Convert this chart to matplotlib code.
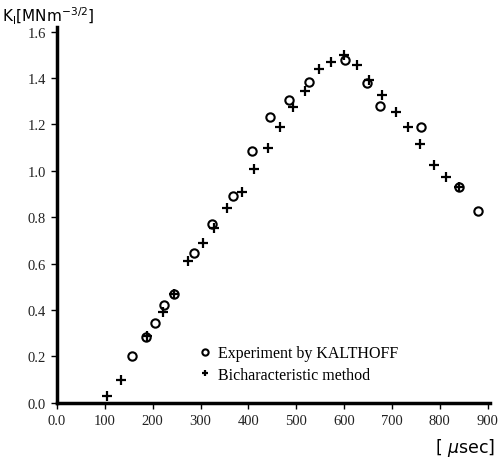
import matplotlib.pyplot as plt

# Experiment by KALTHOFF (circles)
exp_t = [156, 186, 205, 223, 245, 287, 325, 367, 408, 445, 484, 526, 601,
         647, 676, 761, 840, 880]
exp_k = [0.20, 0.283, 0.345, 0.42, 0.47, 0.645, 0.77, 0.89, 1.085, 1.234,
         1.306, 1.385, 1.48, 1.379, 1.279, 1.188, 0.929, 0.829]

# Bicharacteristic method (plus)
bic_t = [105, 134, 188, 221, 245, 273, 305, 328, 356, 386, 412, 440, 466,
         493, 519, 547, 573, 600, 627, 653, 680, 708, 733, 759, 787, 812, 840]
bic_k = [0.031, 0.099, 0.29, 0.39, 0.47, 0.61, 0.69, 0.755, 0.84, 0.91,
         1.007, 1.098, 1.191, 1.277, 1.346, 1.44, 1.471, 1.50, 1.457, 1.393,
         1.325, 1.256, 1.188, 1.116, 1.026, 0.975, 0.929]

xticks = [0, 100, 200, 300, 400, 500, 600, 700, 800, 900]
xtick_labels = ['0.0', '100', '200', '300', '400', '500', '600', '700', '800', '900']
yticks = [0.0, 0.2, 0.4, 0.6, 0.8, 1.0, 1.2, 1.4, 1.6]

serif = ['Liberation Serif', 'DejaVu Serif']

fig = plt.figure(figsize=(5, 4.6), dpi=100)
ax = fig.add_axes([0.114, 0.122, 0.866, 0.817])

ax.plot(exp_t, exp_k, linestyle='none', marker='o', markersize=6,
        markerfacecolor='none', markeredgecolor='black', markeredgewidth=1.5,
        label='Experiment by KALTHOFF')
ax.plot(bic_t, bic_k, linestyle='none', marker='+', markersize=6.5,
        color='black', markeredgewidth=1.6, label='Bicharacteristic method')

ax.set_xlim(0, 905)
ax.set_ylim(0, 1.62)
ax.spines['top'].set_visible(False)
ax.spines['right'].set_visible(False)
ax.spines['left'].set_linewidth(2.5)
ax.spines['bottom'].set_linewidth(2.5)

ax.set_xticks(xticks)
ax.set_xticklabels(xtick_labels)
ax.set_yticks(yticks)
ax.set_yticklabels(['%.1f' % v for v in yticks])
ax.tick_params(direction='out', length=4, width=1, labelsize=10.5, pad=4)
for lab in ax.get_xticklabels() + ax.get_yticklabels():
    lab.set_family(serif)
    lab.set_color('#222222')

leg = ax.legend(loc='lower left', bbox_to_anchor=(0.29, 0.015), frameon=False,
                handletextpad=0.3, labelspacing=0.35, handlelength=1.0,
                markerscale=0.75, prop={'family': serif, 'size': 11.5})

fig.text(0.004, 0.965, r'K$_{\rm I}$[MNm$^{-3/2}$]', fontsize=11,
         family='DejaVu Sans', ha='left', va='center')
fig.text(0.99, 0.025, r'[ $\mu$sec]', fontsize=12.5, family='DejaVu Sans',
         ha='right', va='center')

fig.savefig('out.png', dpi=100)
